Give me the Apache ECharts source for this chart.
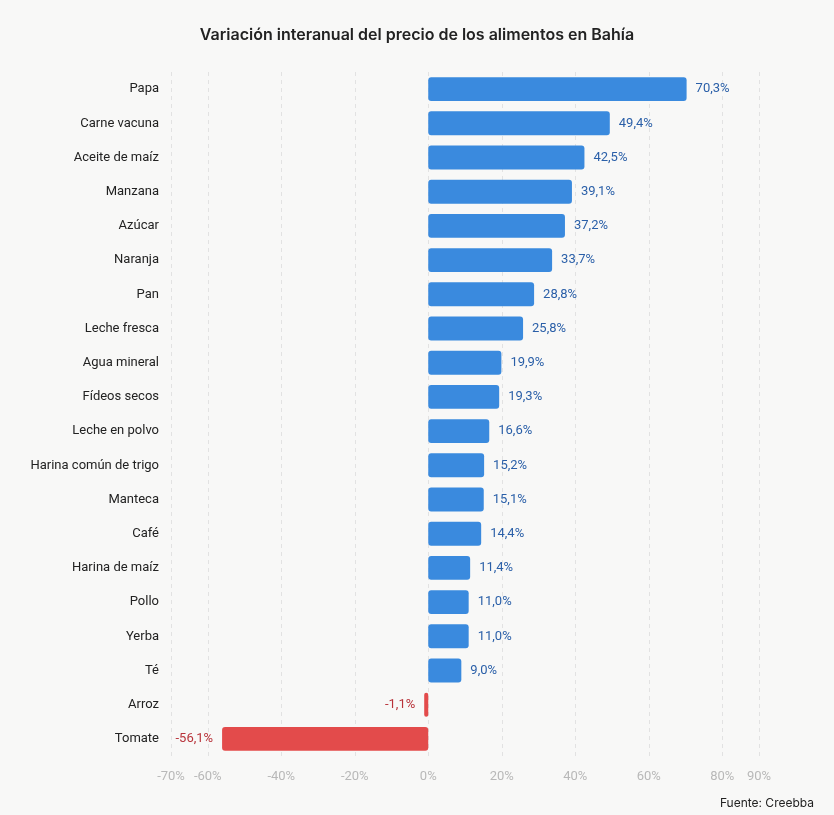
<!DOCTYPE html>
<html>
<head>
<meta charset="utf-8">
<script src="https://cdn.jsdelivr.net/npm/echarts@6/dist/echarts.min.js"></script>
<style>
  html, body { margin: 0; padding: 0; background: #f8f8f7; }
  #chart { width: 834px; height: 815px; }
</style>
</head>
<body>
<div id="chart"></div>
<script>
const categories = ['Papa', 'Carne vacuna', 'Aceite de maíz', 'Manzana', 'Azúcar', 'Naranja', 'Pan',
  'Leche fresca', 'Agua mineral', 'Fídeos secos', 'Leche en polvo', 'Harina común de trigo',
  'Manteca', 'Café', 'Harina de maíz', 'Pollo', 'Yerba', 'Té', 'Arroz', 'Tomate']
const variation = [70.3, 49.4, 42.5, 39.1, 37.2, 33.7, 28.8, 25.8, 19.9, 19.3, 16.6, 15.2,
  15.1, 14.4, 11.4, 11.0, 11.0, 9.0, -1.1, -56.1]

const axisMin = -70
const axisMax = 90

const fmt = v => v.toFixed(1).replace('.', ',') + '%'

const myChart = echarts.init(document.getElementById('chart'))
const option = {
  backgroundColor: '#f8f8f7',
  textStyle: { fontFamily: 'Roboto' },
  title: {
    text: 'Variación interanual del precio de los alimentos en Bahía',
    left: 'center',
    top: 22,
    textStyle: { fontFamily: 'Inter', fontSize: 16, fontWeight: 600, color: '#222' }
  },
  graphic: [{
    type: 'text',
    right: 20,
    top: 797,
    style: { text: 'Fuente: Creebba', font: '12px Inter', fill: '#222' }
  }],
  grid: { left: 171, right: 75, top: 72, bottom: 59, containLabel: false },
  xAxis: {
    type: 'value',
    min: axisMin,
    max: axisMax,
    splitNumber: 8,
    axisLine: { show: false },
    axisTick: { show: false },
    axisLabel: {
      formatter: v => v + '%',
      color: '#b8b8b8',
      fontFamily: 'Roboto',
      fontSize: 13,
      margin: 14
    },
    splitLine: { lineStyle: { type: [4, 4], color: '#e2e2e2' } }
  },
  yAxis: {
    type: 'category',
    data: categories,
    inverse: true,
    axisLine: { show: false },
    axisTick: { show: false },
    axisLabel: { color: '#222', fontFamily: 'Roboto', fontSize: 13, margin: 12 }
  },
  series: [{
    type: 'bar',
    barWidth: '70%',
    data: variation.map(v => ({
      value: v,
      itemStyle: {
        color: v >= 0 ? '#3a8ade' : '#e34b4b',
        borderRadius: 3
      },
      label: {
        show: true,
        position: v >= 0 ? 'right' : 'left',
        distance: 9,
        formatter: () => fmt(v),
        color: v >= 0 ? '#2a5fa8' : '#b8333a',
        fontFamily: 'Roboto',
        fontSize: 13
      }
    }))
  }]
}
myChart.setOption(option)

window.addEventListener('resize', () => {
  myChart.resize()
})
</script>
</body>
</html>
